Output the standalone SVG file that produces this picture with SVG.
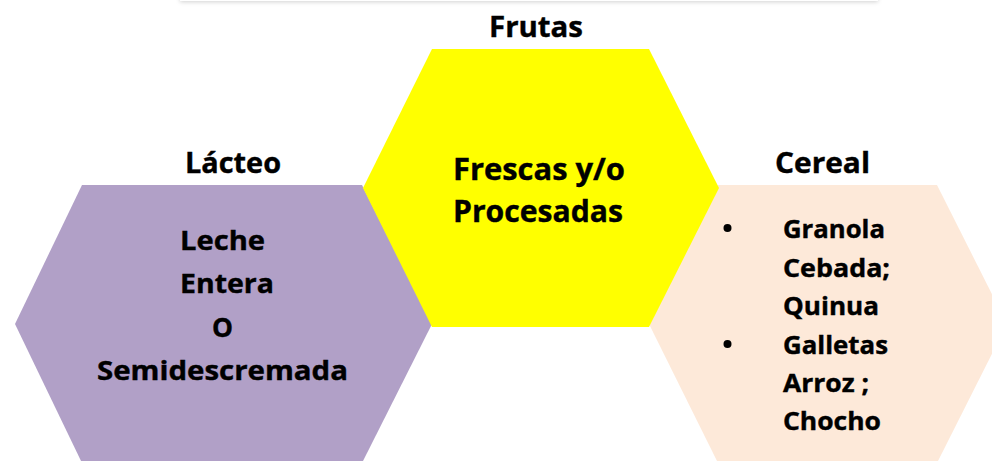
<svg xmlns="http://www.w3.org/2000/svg" width="992" height="461" viewBox="0 0 992 461">
  <style>
    .t { font-family: "Open Sans", "Noto Sans", "Liberation Sans", sans-serif; font-weight: bold; fill: #000; stroke: #000; stroke-width: 0.4px; }
    .title { font-size: 29px; }
    .body { font-size: 27px; }
    .list { font-size: 25px; }
  </style>
  <defs>
    <filter id="shadow" x="-5%" y="-100%" width="110%" height="300%">
      <feDropShadow dx="0" dy="1" stdDeviation="2" flood-color="#000" flood-opacity="0.18"/>
    </filter>
  </defs>
  <rect x="0" y="0" width="992" height="461" fill="#ffffff"/>
  <rect x="180" y="-20" width="698" height="21" fill="#ffffff" filter="url(#shadow)"/>

  <g id="connectors"></g>

  <g id="node-lacteo">
    <polygon points="82,185 362,185 432,324 362,463 82,463 15,324" fill="#B1A0C7"/>
    <text class="t title" x="233" y="173" text-anchor="middle" textLength="96" lengthAdjust="spacingAndGlyphs">Lácteo</text>
    <text class="t body" x="222.5" y="250" text-anchor="middle" textLength="85" lengthAdjust="spacingAndGlyphs">Leche</text>
    <text class="t body" x="227" y="293" text-anchor="middle" textLength="94" lengthAdjust="spacingAndGlyphs">Entera</text>
    <text class="t body" x="222.5" y="337" text-anchor="middle" textLength="21" lengthAdjust="spacingAndGlyphs">O</text>
    <text class="t body" x="222.5" y="380" text-anchor="middle" textLength="251" lengthAdjust="spacingAndGlyphs">Semidescremada</text>
  </g>

  <g id="node-cereal">
    <polygon points="718,185 937,185 1007,324 937,463 718,463 649,324" fill="#FDE9D9"/>
    <text class="t title" x="822.5" y="173" text-anchor="middle" textLength="95" lengthAdjust="spacingAndGlyphs">Cereal</text>
    <circle cx="727.5" cy="228" r="4" fill="#000"/>
    <circle cx="727.5" cy="344" r="4" fill="#000"/>
    <text class="t list" x="783" y="238" textLength="102" lengthAdjust="spacingAndGlyphs">Granola</text>
    <text class="t list" x="783" y="277" textLength="107" lengthAdjust="spacingAndGlyphs">Cebada;</text>
    <text class="t list" x="783" y="315" textLength="96" lengthAdjust="spacingAndGlyphs">Quinua</text>
    <text class="t list" x="783" y="354" textLength="105" lengthAdjust="spacingAndGlyphs">Galletas</text>
    <text class="t list" x="783" y="392" textLength="86" lengthAdjust="spacingAndGlyphs">Arroz ;</text>
    <text class="t list" x="783" y="430" textLength="98" lengthAdjust="spacingAndGlyphs">Chocho</text>
  </g>

  <g id="node-frutas">
    <polygon points="432,49 649,49 719,188 649,327 432,327 363,188" fill="#FFFF00"/>
    <text class="t title" x="536" y="37" text-anchor="middle" textLength="94" lengthAdjust="spacingAndGlyphs">Frutas</text>
    <text class="t body" x="539" y="180" text-anchor="middle" textLength="172" lengthAdjust="spacingAndGlyphs" style="font-size:30px">Frescas y/o</text>
    <text class="t body" x="538" y="222" text-anchor="middle" textLength="170" lengthAdjust="spacingAndGlyphs" style="font-size:30px">Procesadas</text>
  </g>
</svg>
